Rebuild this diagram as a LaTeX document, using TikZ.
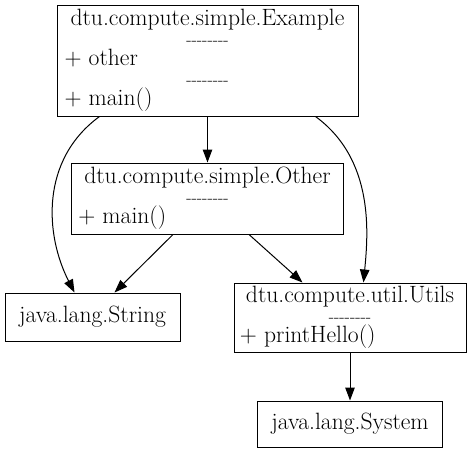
\documentclass[tikz,border=0pt]{standalone}
\usetikzlibrary{arrows.meta}
\newcommand{\ctitle}[1]{\multicolumn{1}{c}{\smash{#1}}}
\newcommand{\cmember}[1]{\smash{#1}}
\newcommand{\dashrow}{\multicolumn{1}{c}{\smash{\fontsize{17.5}{20}\selectfont -{}-{}-{}-{}-{}-{}-{}-}}}
\newcommand{\umlclass}[1]{\raisebox{-1pt}[\height][\depth]{\begin{tabular}{@{}l@{}}#1\end{tabular}}}
\begin{document}
\begin{tikzpicture}[
    x=1pt, y=-1pt,
    >={Triangle[length=13pt, width=9.5pt]},
    line width=1pt,
    every node/.style={draw, rectangle, inner xsep=0pt, inner ysep=0pt,
      font=\fontsize{23.6}{20}\selectfont, align=left}
]
  \useasboundingbox (0,0) rectangle (471,455);

  % classes
  \node[minimum width=301pt, minimum height=111pt] (ex) at (207.5,60.5)
    {\umlclass{\ctitle{dtu.compute.simple.Example}\\ \dashrow\\
       \cmember{+ other}\\ \dashrow\\ \cmember{+ main()}}};
  \node[minimum width=272pt, minimum height=71pt] (oth) at (207.5,198.5)
    {\umlclass{\ctitle{dtu.compute.simple.Other}\\ \dashrow\\
       \cmember{+ main()}}};
  \node[minimum width=175pt, minimum height=48pt] (str) at (92.5,317)
    {java.lang.String};
  \node[minimum width=232pt, minimum height=69pt] (utl) at (350,317.5)
    {\umlclass{\ctitle{dtu.compute.util.Utils}\\ \dashrow\\
       \cmember{+ printHello()}}};
  \node[minimum width=185pt, minimum height=46pt] (sys) at (350,424)
    {java.lang.System};

  % dependencies
  \draw[->] (ex) -- (oth);
  \draw[->] ([xshift=43pt]ex.south west) .. controls (40,160) and (45,235) .. ([xshift=70pt]str.north west);
  \draw[->] ([xshift=-43pt]ex.south east) .. controls (375,160) and (368,235) .. ([xshift=-103pt]utl.north east);
  \draw[->] ([xshift=102pt]oth.south west) -- ([xshift=110pt]str.north west);
  \draw[->] ([xshift=-95pt]oth.south east) -- ([xshift=69pt]utl.north west);
  \draw[->] (utl) -- (sys);
\end{tikzpicture}
\end{document}
